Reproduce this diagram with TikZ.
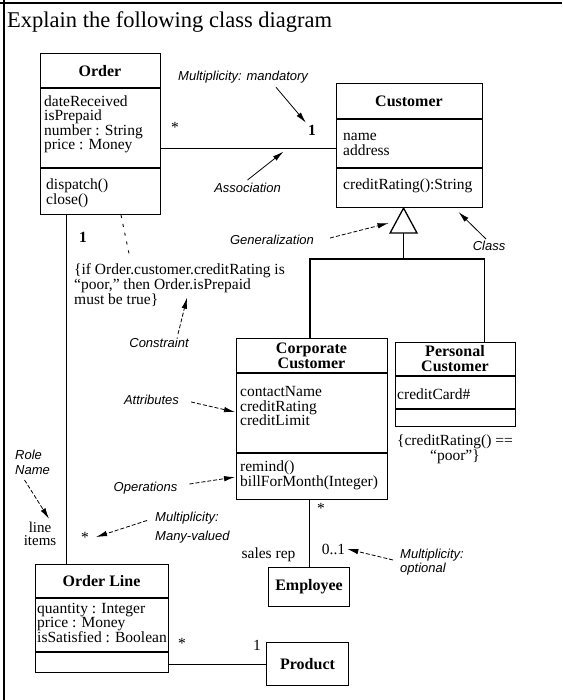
\documentclass[tikz,border=0pt]{standalone}
\usepackage{fontspec}
\setmainfont{Liberation Serif}
\setsansfont{Liberation Sans}
\usetikzlibrary{arrows.meta,positioning}

\begin{document}
\begin{tikzpicture}[x=1pt,y=-1pt,
  classbox/.style={draw, line width=1.1pt, inner sep=0pt, anchor=north west},
  cname/.style={font=\bfseries\fontsize{16}{15}\selectfont, align=center, inner sep=0pt},
  ctext/.style={font=\fontsize{15.5}{14.5}\selectfont, align=left, anchor=west, inner sep=0pt},
  mult/.style={font=\fontsize{15.5}{15}\selectfont, inner sep=0pt},
  note/.style={font=\sffamily\itshape\fontsize{13}{14}\selectfont, align=left, inner sep=0pt},
  sep/.style={line width=1.1pt},
  link/.style={line width=0.9pt},
  genline/.style={line width=1.8pt},
  pointer/.style={line width=0.8pt, -{Latex[length=11pt,width=5.5pt]}},
  dpointer/.style={pointer, dash pattern=on 4pt off 2pt}]

\useasboundingbox (0,0) rectangle (562,700);
% frame of the question
\draw[line width=2.5pt] (0,3) -- (562,3);
\draw[line width=2pt] (3.5,0) -- (3.5,700);
\node[anchor=base west, inner sep=0pt, font=\fontsize{22.5}{27}\selectfont] (title) at (7,28) {Explain the following class diagram};

% Order
\node[classbox, minimum width=120pt, minimum height=161pt] (order) at (40,53) {};
\draw[sep] ([yshift=-35pt]order.north west) -- ([yshift=-35pt]order.north east);
\draw[sep] ([yshift=-115pt]order.north west) -- ([yshift=-115pt]order.north east);
\node[cname] (ordername) at (100,71) {Order};
\node[ctext] (orderattr) at (44,124.5) {dateReceived\\isPrepaid\\number : String\\price : Money};
\node[ctext] (orderop) at (46,193.5) {dispatch()\\close()};

% Customer
\node[classbox, minimum width=146pt, minimum height=124pt] (customer) at (336,83) {};
\draw[sep] ([yshift=-36pt]customer.north west) -- ([yshift=-36pt]customer.north east);
\draw[sep] ([yshift=-85pt]customer.north west) -- ([yshift=-85pt]customer.north east);
\node[cname] (customername) at (409,101) {Customer};
\node[ctext] (customerattr) at (343,144.5) {name\\address};
\node[ctext] (customerop) at (343,186) {creditRating():String};

% Corporate Customer
\node[classbox, minimum width=151pt, minimum height=161pt] (corporate) at (236,338) {};
\draw[sep] ([yshift=-35pt]corporate.north west) -- ([yshift=-35pt]corporate.north east);
\draw[sep] ([yshift=-115pt]corporate.north west) -- ([yshift=-115pt]corporate.north east);
\node[cname] (corporatename) at (311.5,355.5) {Corporate\\Customer};
\node[ctext] (corporateattr) at (240,406) {contactName\\creditRating\\creditLimit};
\node[ctext] (corporateop) at (240,475.5) {remind()\\billForMonth(Integer)};

% Personal Customer
\node[classbox, minimum width=120pt, minimum height=84pt] (personal) at (395,342) {};
\draw[sep] ([yshift=-34pt]personal.north west) -- ([yshift=-34pt]personal.north east);
\draw[sep] ([yshift=-67pt]personal.north west) -- ([yshift=-67pt]personal.north east);
\node[cname] (personalname) at (455,359) {Personal\\Customer};
\node[ctext] (personalattr) at (397,394) {creditCard\#};
\node[ctext, align=center, anchor=center] (personalrule) at (455,449.5) {\{creditRating() ==\\“poor”\}};

% Order Line, Employee, Product
\node[classbox, minimum width=133pt, minimum height=108pt] (orderline) at (35,564) {};
\draw[sep] ([yshift=-34pt]orderline.north west) -- ([yshift=-34pt]orderline.north east);
\draw[sep] ([yshift=-88pt]orderline.north west) -- ([yshift=-88pt]orderline.north east);
\node[cname] (orderlinename) at (101.5,581) {Order Line};
\node[ctext] (orderlineattr) at (37,622.5) {quantity : Integer\\price : Money\\isSatisfied : Boolean};
\node[classbox, cname, minimum width=81pt, minimum height=39pt] (employee) at (268,567) {Employee};
\node[classbox, cname, minimum width=82pt, minimum height=43pt] (product) at (266,642) {Product};

% constraint on Order
\node[ctext, font=\fontsize{15.5}{15}\selectfont] (constraint) at (74,285) {\{if Order.customer.creditRating is\\“poor,” then Order.isPrepaid\\must be true\}};

% associations
\draw[link] ([yshift=-3pt]customer.west -| order.east) -- coordinate[pos=0.7] (assocpt) ([yshift=-3pt]customer.west);
\draw[link] ([xshift=26pt]order.south west) -- ([xshift=26pt]order.south west |- orderline.north);
\draw[link] (corporate.south -| employee.north) -- (employee.north);
\draw[link] (orderline.east |- product.west) -- (product.west);
\draw[link, dash pattern=on 3pt off 6pt] ([xshift=81pt]order.south west) -- ([xshift=56pt,yshift=5pt]constraint.north west);

% generalization
\coordinate (genapex) at ([xshift=-6pt]customer.south);
\coordinate (genbase) at ([yshift=-25pt]genapex);
\coordinate (genbar) at ([yshift=-51pt]genapex);
\coordinate (genleft) at ([xshift=-15pt,yshift=-15pt]genapex);
\draw[line width=1.3pt, fill=white] (genapex) -- ++(-13.5,25) -- ++(27,0) -- cycle;
\draw[genline] (genbase) -- (genbar);
\draw[genline] ([xshift=-2pt]corporate.north) |- (genbar) -| ([xshift=29pt]personal.north);

% multiplicities and role names
\node[mult, font=\bfseries\fontsize{15.5}{15}\selectfont] (one1) at (312,130) {1};
\node[mult] (star1) at (175,127) {*};
\node[mult, font=\bfseries\fontsize{15.5}{15}\selectfont] (one2) at (83,237) {1};
\node[mult] (star2) at (85,537) {*};
\node[mult] (star3) at (321,508) {*};
\node[mult] (zeroone) at (333.5,549) {0..1};
\node[mult] (salesrep) at (268.5,555) {sales rep};
\node[mult] (one3) at (257,645) {1};
\node[mult] (star4) at (182,643) {*};
\node[mult, align=center, font=\fontsize{15}{13.5}\selectfont] (lineitems) at (40,534) {line\\items};

% annotations
\node[note, anchor=west] (multmand) at (178,77) {Multiplicity: mandatory};
\node[note] (assoc) at (247.5,188) {Association};
\node[note] (general) at (272,240) {Generalization};
\node[note] (classlbl) at (489,246) {Class};
\node[note] (constraintlbl) at (159,343) {Constraint};
\node[note] (attrlbl) at (151.5,400) {Attributes};
\node[note] (oplbl) at (145.5,488) {Operations};
\node[note, anchor=west, font=\sffamily\itshape\fontsize{13}{15}\selectfont] (rolename) at (15,462.5) {Role\\Name};
\node[note, anchor=west, font=\sffamily\itshape\fontsize{13}{19}\selectfont] (multmany) at (155,527.5) {Multiplicity:\\Many-valued};
\node[note, anchor=west] (multopt) at (400,562) {Multiplicity:\\optional};

\draw[pointer] ([xshift=98pt,yshift=-4pt]multmand.south west) -- ([xshift=-2pt,yshift=2pt]one1.north west);
\draw[pointer] ([yshift=3pt]assoc.north) -- ([yshift=-3pt]assocpt);
\draw[dpointer] ([xshift=16pt,yshift=2pt]general.east) -- (genleft);
\draw[pointer] ([xshift=-3pt,yshift=2pt]classlbl.north) -- ([xshift=49pt,yshift=-4pt]customer.south);
\draw[dpointer] ([xshift=19pt,yshift=4pt]constraintlbl.north) -- ([xshift=7.5pt,yshift=9pt]constraint.south);
\draw[dpointer] ([xshift=12pt,yshift=-2pt]attrlbl.east) -- ([xshift=-1pt,yshift=7pt]corporate.west);
\draw[dpointer] ([xshift=12pt,yshift=4pt]oplbl.east) -- ([xshift=-1pt,yshift=-58pt]corporate.west);
\draw[dpointer] ([xshift=-8pt,yshift=-5pt]rolename.south) -- ([xshift=9pt,yshift=3pt]lineitems.north);
\draw[dpointer] ([xshift=-8pt,yshift=7pt]multmany.west) -- ([xshift=7pt]star2.east);
\draw[dpointer] ([xshift=-7pt,yshift=2pt]multopt.west) -- ([xshift=2pt]zeroone.east);
\end{tikzpicture}
\end{document}
